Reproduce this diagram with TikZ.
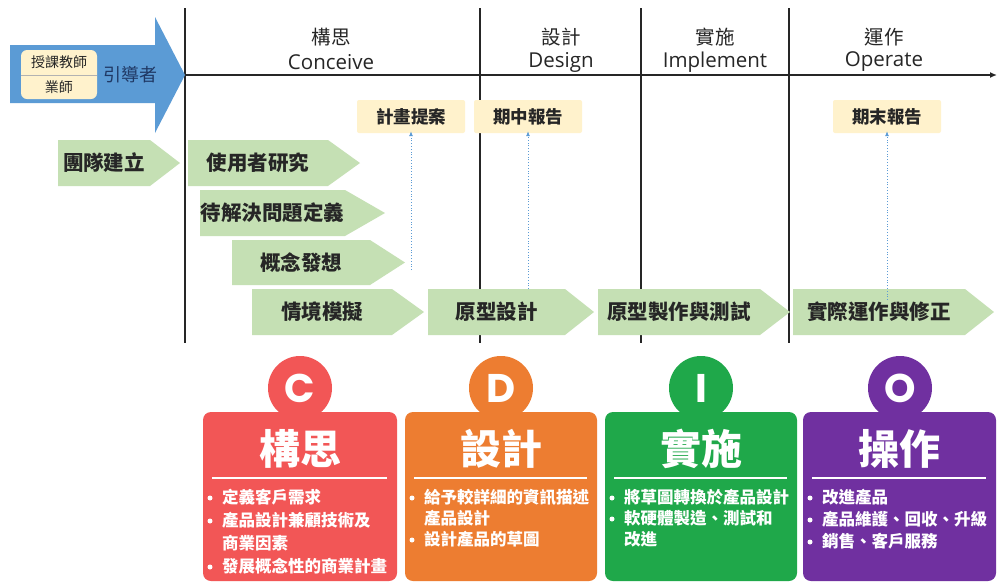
\documentclass[tikz,border=0pt]{standalone}
\usepackage{fontspec}
\setmainfont{Noto Sans CJK TC}
\newfontfamily\latinfont{Open Sans}
\newfontfamily\letterfont{Poppins}
\usetikzlibrary{arrows.meta}
\definecolor{gfill}{HTML}{C5E0B4}
\definecolor{cream}{HTML}{FFF2CC}
\definecolor{bluearr}{HTML}{5B9BD5}
\definecolor{navy}{HTML}{1F3864}
\definecolor{txt}{HTML}{262626}
\definecolor{cred}{HTML}{F25656}
\definecolor{corange}{HTML}{ED7D31}
\definecolor{cgreen}{HTML}{1FA84A}
\definecolor{cpurple}{HTML}{7030A0}
\tikzset{
  phaseline/.style={line width=1.4pt, draw=black!85},
  glabel/.style={font=\fontsize{20.5}{23}\selectfont\bfseries, text=txt, inner sep=0pt},
  hlabel/.style={font=\fontsize{19.5}{22}\selectfont, text=txt, inner sep=0pt},
  hlatin/.style={font=\latinfont\fontsize{20.5}{23}\selectfont, text=txt, inner sep=0pt},
  milestone/.style={fill=cream, rounded corners=2pt, minimum width=108pt, minimum height=33pt, inner sep=0pt, font=\fontsize{17.5}{20}\selectfont\bfseries, text=txt},
  dotarrow/.style={draw=bluearr, dotted, line width=0.8pt, -{Latex[length=5pt,width=4pt]}},
  cardtitle/.style={font=\fontsize{41}{46}\selectfont\bfseries, text=white, inner sep=0pt},
  cardletter/.style={font=\letterfont\bfseries\fontsize{40}{42}\selectfont, text=white, inner sep=0pt},
  bullettxt/.style={font=\fontsize{16.5}{22}\selectfont\bfseries, text=white, inner sep=0pt, anchor=west},
  bulletdot/.style={circle, fill=white, inner sep=0pt, minimum size=5pt},
}
\newcommand\greenarrowshape[7]{%
  \fill[gfill] (#2,#5) -- (#3,#5) -- (#4,{(#5+#6)/2}) -- (#3,#6) -- (#2,#6) -- cycle;
  \node[glabel] (#1) at ({(#2+#3)/2},{(#5+#6)/2}) {#7};}
\newcommand\cdiocard[7]{% name, x1, x2, color, letter, title, circle cx
  \fill[#4] (#7,388) circle[radius=32pt];
  \fill[#4, rounded corners=8pt] (#2,412) rectangle (#3,581);
  \node[cardletter] (#1letter) at (#7,388) {#5};
  \node[cardtitle] (#1title) at ({(#2+#3)/2},449) {#6};
  \draw[white, line width=2.6pt] ({#2+9},478) -- ({#3-10},478);}
\newcommand\cardbullet[4]{% name, xleft, y, text
  \node[bulletdot] (#1d) at ({#2+7},{#3+1}) {};
  \node[bullettxt] (#1) at ({#2+19},#3) {#4};}
\begin{document}
\begin{tikzpicture}[x=1pt,y=-1pt]
\useasboundingbox[fill=white] (0,0) rectangle (997,582);

% phase lines and axis
\coordinate (l0t) at (185,8); \coordinate (l0b) at (185,343);
\coordinate (l1t) at (480,8); \coordinate (l1b) at (480,343);
\coordinate (l2t) at (641,8); \coordinate (l2b) at (641,343);
\coordinate (l3t) at (789,8); \coordinate (l3b) at (789,343);
\coordinate (axs) at (185,75); \coordinate (axe) at (997,75);
\draw[phaseline] (l0t) -- (l0b);
\draw[phaseline] (l1t) -- (l1b);
\draw[phaseline] (l2t) -- (l2b);
\draw[phaseline] (l3t) -- (l3b);
\draw[phaseline, -{Latex[length=7pt,width=6pt]}] (axs) -- (axe);

% headers
\node[hlabel] (h1a) at (331,37) {構思};
\node[hlatin] (h1b) at (331,62) {Conceive};
\node[hlabel] (h2a) at (561,37) {設計};
\node[hlatin] (h2b) at (561,62) {Design};
\node[hlabel] (h3a) at (715,37) {實施};
\node[hlatin] (h3b) at (715,62) {Implement};
\node[hlabel] (h4a) at (884,37) {運作};
\node[hlatin] (h4b) at (884,62) {Operate};

% blue arrow
\fill[bluearr] (10,45) -- (155,45) -- (155,17) -- (185,75) -- (155,133) -- (155,103) -- (10,103) -- cycle;
\fill[cream, rounded corners=6pt] (21,50) rectangle (97,99);
\draw[black!30, line width=0.6pt] (21,75) -- (97,75);
\node[font=\fontsize{14}{16}\selectfont, text=txt, inner sep=0pt] (teach) at (59,62) {授課教師};
\node[font=\fontsize{14}{16}\selectfont, text=txt, inner sep=0pt] (mentor) at (59,87) {業師};
\node[font=\fontsize{18}{20}\selectfont, text=navy, inner sep=0pt] (guide) at (130,75) {引導者};

% green arrows
\greenarrowshape{team}{58}{150}{180}{140}{186}{團隊建立}
\greenarrowshape{user}{188}{328}{360}{140}{186}{使用者研究}
\greenarrowshape{prob}{200}{345}{385}{190}{236}{待解決問題定義}
\greenarrowshape{idea}{232}{370}{405}{240}{285}{概念發想}
\greenarrowshape{scen}{252}{392}{424}{289}{335}{情境模擬}
\greenarrowshape{proto}{428}{565}{594}{289}{335}{原型設計}
\greenarrowshape{build}{598}{760}{790}{289}{335}{原型製作與測試}
\greenarrowshape{oper}{793}{965}{994}{289}{335}{實際運作與修正}

% milestones
\node[milestone] (plan) at (411,116.5) {計畫提案};
\node[milestone] (mid) at (528,116.5) {期中報告};
\node[milestone] (final) at (887,116.5) {期末報告};
\coordinate (p1) at (411,270);
\coordinate (p2) at (528,289);
\coordinate (p3) at (887,300);
\draw[dotarrow] (p1) -- ([yshift=2pt]plan.south);
\draw[dotarrow] (p2) -- ([yshift=2pt]mid.south);
\draw[dotarrow] (p3) -- ([yshift=2pt]final.south);

% cards
\cdiocard{cc}{203}{397}{cred}{C}{構思}{300}
\cdiocard{cd}{405}{597}{corange}{D}{設計}{501}
\cdiocard{ci}{605}{797}{cgreen}{I}{實施}{701}
\cdiocard{co}{803}{996}{cpurple}{O}{操作}{900}

\cardbullet{c1}{203}{497}{定義客戶需求}
\cardbullet{c2}{203}{520}{產品設計兼顧技術及}
\node[bullettxt] (c2b) at (222,543) {商業因素};
\cardbullet{c3}{203}{566}{發展概念性的商業計畫}

\cardbullet{d1}{405}{497}{給予較詳細的資訊描述}
\node[bullettxt] (d1b) at (424,518) {產品設計};
\cardbullet{d2}{405}{539}{設計產品的草圖}

\cardbullet{i1}{605}{497}{將草圖轉換於產品設計}
\cardbullet{i2}{605}{518}{軟硬體製造、測試和}
\node[bullettxt] (i2b) at (624,539) {改進};

\cardbullet{o1}{803}{497}{改進產品}
\cardbullet{o2}{803}{519}{產品維護、回收、升級}
\cardbullet{o3}{803}{541}{銷售、客戶服務}
\end{tikzpicture}
\end{document}
